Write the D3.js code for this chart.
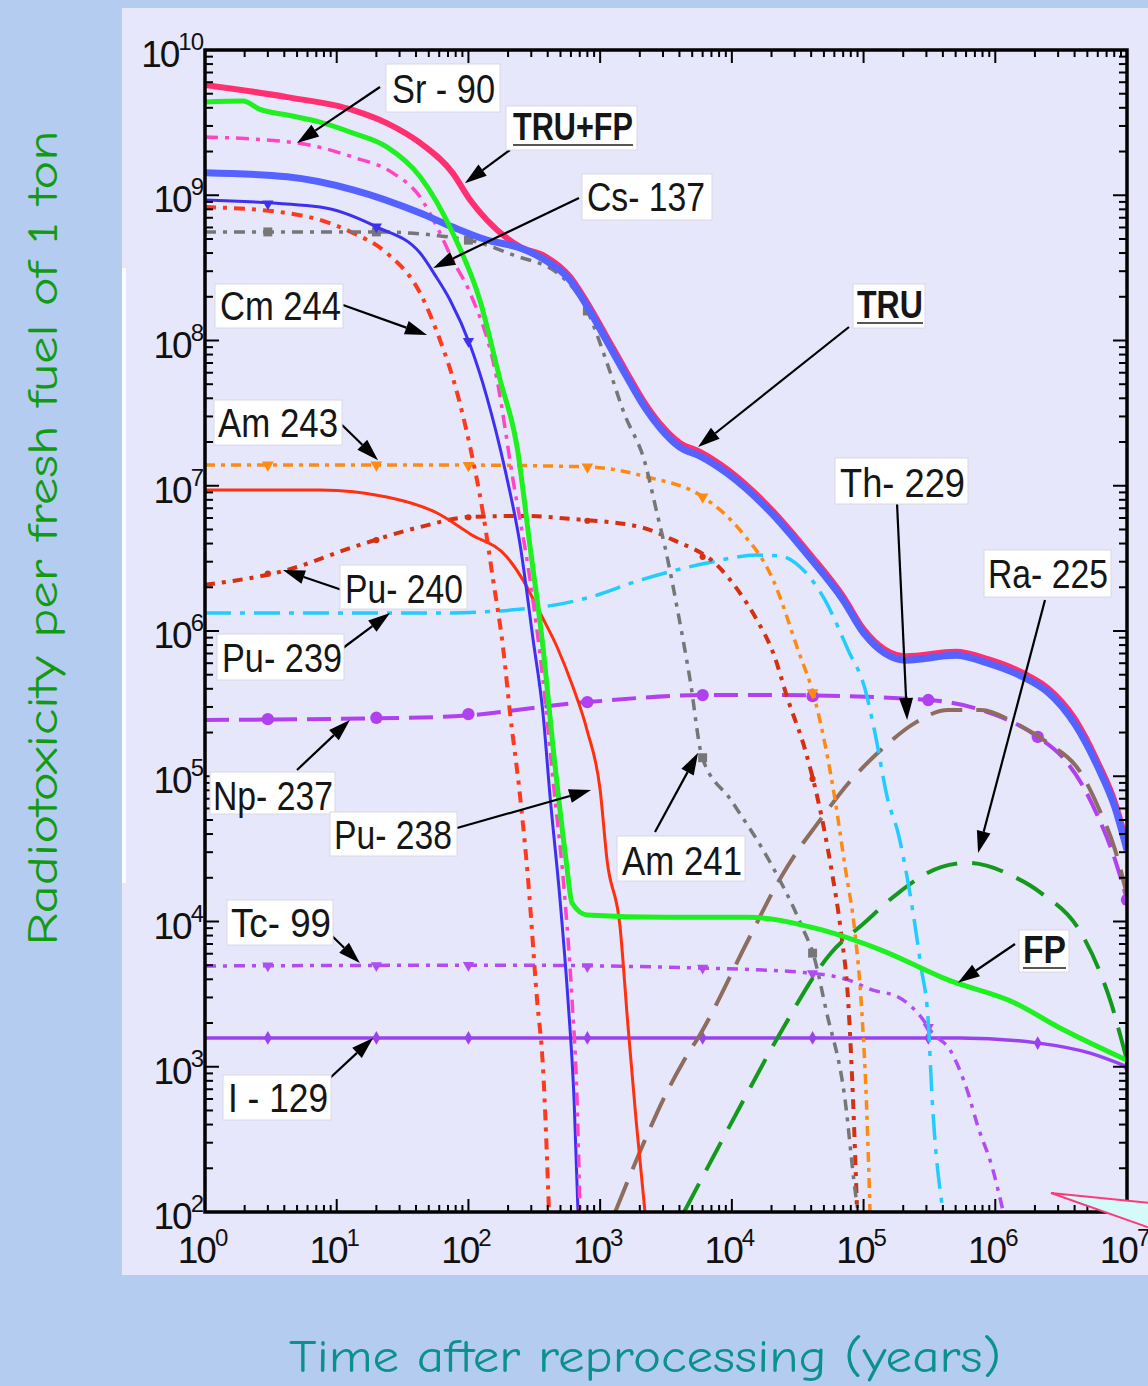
<!DOCTYPE html>
<html>
<head>
<meta charset="utf-8">
<script src="https://cdn.jsdelivr.net/npm/d3@7"></script>
<style>
  html, body { margin: 0; padding: 0; background: #b4ccef; }
  svg { display: block; }
</style>
</head>
<body>
<svg id="chart" width="1148" height="1386"></svg>
<script>
const svg = d3.select("#chart");

const width = 1148;
const height = 1386;

// axis ticks (decades)
const xTickValues = [1, 10, 100, 1e3, 1e4, 1e5, 1e6, 1e7];
const yTickValues = [1e2, 1e3, 1e4, 1e5, 1e6, 1e7, 1e8, 1e9, 1e10];

// series: [years, radiotoxicity]
const truFp = [[1,5.74e9],[4.2,4.74e9],[13.3,3.86e9],[24,3.14e9],[43,2.29e9],[76,1.42e9],[103,9.27e8],[138,6.76e8],[247,4.41e8],[382,3.8e8],[590,2.75e8],[770,1.92e8],[1090,1.11e8],[1550,6.3e7],[2200,3.67e7],[2850,2.67e7],[4000,1.98e7],[5740,1.71e7],[9200,1.3e7],[19000,7.2e6],[39000,3.4e6],[70000,1.73e6],[1.0e5,1.03e6],[2.1e5,6.7e5],[5.0e5,7.2e5],[8.8e5,6.4e5],[1.8e6,4.9e5],[2.5e6,4.05e5],[4.0e6,2.5e5],[6.0e6,1.25e5],[8.1e6,6.6e4],[1e7,3.4e4]];
const tru = [[1,1.43e9],[4.2,1.34e9],[13.3,1.09e9],[43,7.55e8],[76,6.04e8],[138,4.92e8],[247,4.34e8],[382,3.58e8],[590,2.61e8],[770,1.81e8],[1090,1.04e8],[1550,5.88e7],[2200,3.43e7],[2850,2.5e7],[4000,1.85e7],[5740,1.6e7],[9200,1.22e7],[19000,6.8e6],[39000,3.2e6],[70000,1.63e6],[1.0e5,9.7e5],[2.1e5,6.3e5],[5.0e5,6.8e5],[8.8e5,6.0e5],[1.8e6,4.6e5],[2.5e6,3.8e5],[4.0e6,2.3e5],[6.0e6,1.16e5],[8.1e6,6.1e4],[1e7,3.1e4]];
const fp = [[1,4.39e9],[1.94,4.45e9],[2.62,3.9e9],[4.2,3.57e9],[7.47,3.19e9],[13.3,2.68e9],[24,2.15e9],[43,1.34e9],[76,5.5e8],[122,1.9e8],[174,5.35e7],[234,1.85e7],[294,3.78e6],[368,7.76e5],[439,1.59e5],[551,2.65e4],[612,1.34e4],[795,1.11e4],[3110,1.07e4],[13300,1.07e4],[42800,9.0e3],[1.36e5,6.36e3],[4.38e5,3.96e3],[1.41e6,2.75e3],[3.0e6,1.88e3],[1e7,1.11e3]];
const sr90 = [[1,2.52e9],[5.0,2.29e9],[13.3,1.83e9],[26.8,1.42e9],[43,9.73e8],[57.8,6.04e8],[76,3.58e8],[103,2.12e8],[165,5.35e7],[218,1.1e7],[294,2.24e6],[368,4.6e5],[439,9.4e4],[541,1.41e4],[612,2.88e3],[668,5.9e2],[703,1e2]];
const cs137 = [[1,9.27e8],[7.47,8.3e8],[20.2,6.04e8],[43,4.0e8],[55.8,2.82e8],[72.5,1.9e8],[103,9.3e7],[138,4.08e7],[190,1.28e7],[247,3.91e6],[310,8.67e5],[368,2.72e5],[417,7.2e4],[496,1.41e4],[570,2.88e3],[634,5.9e2],[679,1e2]];
const cm244 = [[1,8.3e8],[4.2,7.55e8],[7.47,6.76e8],[13.3,5.5e8],[24,4.0e8],[43,2.12e8],[61,1e8],[79,4.94e7],[103,1.85e7],[129,6.49e6],[154,2.24e6],[183,7.76e5],[207,2.72e5],[247,7.2e4],[284,1.93e4],[332,2.88e3],[368,9.96e2],[409,1e2]];
const am243 = [[1,1.39e7],[61,1.39e7],[795,1.35e7],[2270,1.15e7],[6040,8.37e6],[11500,4.96e6],[20600,2.24e6],[31800,7.4e5],[42800,3.35e5],[60800,6.84e4],[72400,2.37e4],[86100,8.34e3],[95700,2.88e3],[1.05e5,5.9e2],[1.12e5,1e2]];
const pu238 = [[1,9.35e6],[7.47,9.35e6],[24,8.37e6],[57.8,6.49e6],[103,4.66e6],[196,3.23e6],[260,2.24e6],[350,1.33e6],[471,7.76e5],[622,4.11e5],[795,2.08e5],[1000,8.04e4],[1128,2.65e4],[1416,9.2e3],[1629,1.88e3],[1874,4.3e2],[2190,1e2]];
const pu240 = [[1,2.08e6],[4.2,2.63e6],[13.3,3.78e6],[43,5.2e6],[103,6.1e6],[247,6.2e6],[622,5.9e6],[2010,5.2e6],[3580,4.24e6],[7720,2.84e6],[11500,1.83e6],[15500,1.19e6],[20600,7.07e5],[26700,3.35e5],[36000,1.52e5],[45100,6.84e4],[56600,2.37e4],[67500,8.34e3],[76300,2.88e3],[83200,5.9e2],[89300,1e2]];
const pu239 = [[1,1.33e6],[61,1.33e6],[350,1.46e6],[838,1.71e6],[2010,2.24e6],[6490,2.94e6],[15500,3.33e6],[23200,3.28e6],[33000,2.76e6],[51000,1.63e6],[76300,7.4e5],[1.03e5,3.93e5],[1.22e5,1.99e5],[1.53e5,6.84e4],[1.83e5,4.06e4],[2.18e5,1.84e4],[2.73e5,4.86e3],[3.09e5,2.1e3],[3.32e5,5.9e2],[4.02e5,1e2]];
const np237 = [[1,2.44e5],[61,2.56e5],[795,3.24e5],[6040,3.62e5],[23200,3.62e5],[3.09e5,3.35e5],[7.8e5,2.86e5],[2.11e6,1.86e5],[3.39e6,1.29e5],[4.48e6,9.0e4],[6.04e6,5.24e4],[8.13e6,2.65e4],[1e7,1.41e4]];
const th229 = [[1300,1e2],[2190,3.13e2],[3000,5.9e2],[4340,1.11e3],[5830,1.71e3],[13300,7.46e3],[23600,2.02e4],[31800,3.1e4],[42800,4.48e4],[80400,9.4e4],[1.36e5,1.52e5],[2.46e5,2.33e5],[4.38e5,2.86e5],[7.8e5,2.86e5],[1.41e6,2.33e5],[2.52e6,1.69e5],[4.48e6,1.05e5],[6.04e6,6.14e4],[8.13e6,3.1e4],[1e7,1.52e4]];
const ra225 = [[4340,1e2],[11500,5.28e2],[22400,1.6e3],[56600,6.07e3],[1.01e5,9.77e3],[1.83e5,1.57e4],[3.87e5,2.37e4],[6.2e5,2.53e4],[1.41e6,2.02e4],[2.23e6,1.57e4],[4.48e6,8.34e3],[6.14e6,4.63e3],[7.57e6,2.75e3],[8.87e6,1.66e3],[1e7,1.11e3]];
const tc99 = [[1,4.94e3],[174,5.0e3],[5940,4.78e3],[39200,4.42e3],[76300,3.96e3],[1.16e5,3.38e3],[1.83e5,3.02e3],[2.73e5,2.2e3],[3.32e5,1.71e3],[4.54e5,1.3e3],[6.11e5,6.92e2],[7.4e5,3.85e2],[9.46e5,2.04e2],[1.15e6,1e2]];
const i129 = [[1,1.58e3],[5.41e5,1.58e3],[2.07e6,1.46e3],[5.25e6,1.24e3],[1e7,1e3]];
const am241 = [[1,5.59e8],[20,5.59e8],[99,4.92e8],[218,3.88e8],[496,2.82e8],[795,1.62e8],[1128,7.0e7],[1518,3.17e7],[2190,1.44e7],[2700,6.49e6],[3110,3.78e6],[3908,1.33e6],[4820,4.6e5],[5940,1.36e5],[9860,6.84e4],[19100,2.65e4],[34100,9.2e3],[42100,5.7e3],[51900,2.46e3],[72400,5.9e2],[86100,1.42e2],[90800,1e2]];

// times where the plotting program put its symbols
const markerTimes = [3, 20, 100, 800, 6000, 41000, 3.1e5, 2.1e6, 1e7];

// drawing order and styles
const seriesList = [
    {data: i129,  color: "#9a42f0", width: 3.5, dash: null,           marker: "diamond", msize: 55},
    {data: tc99,  color: "#b04cf2", width: 3.5, dash: "11,7,4,7",     marker: "triangle", msize: 55},
    {data: np237, color: "#b040f0", width: 4,   dash: "24,10",        marker: "circle", msize: 120},
    {data: th229, color: "#8c6d5e", width: 4,   dash: "32,14",        marker: null},
    {data: ra225, color: "#13991b", width: 4,   dash: "32,15",        marker: null},
    {data: pu239, color: "#22ccff", width: 3.5, dash: "26,9,5,9",     marker: null},
    {data: pu240, color: "#d5300f", width: 4,   dash: "10,7,4,7",     marker: "circle", msize: 30},
    {data: am243, color: "#ff8a12", width: 3.5, dash: "10,6,4,6",     marker: "triangle", msize: 60},
    {data: pu238, color: "#ff3010", width: 3,   dash: null,           marker: null},
    {data: cm244, color: "#ff3a1c", width: 4,   dash: "11,7,4,7",     marker: null},
    {data: am241, color: "#767676", width: 3.5, dash: "11,7,4,7",     marker: "square", msize: 80},
    {data: cs137, color: "#3f30f0", width: 3,   dash: null,           marker: "triangle", msize: 55},
    {data: sr90,  color: "#ff44c4", width: 3.5, dash: "13,7,4,7",     marker: null},
    {data: truFp, color: "#ff2f72", width: 6,   dash: null,           marker: null},
    {data: tru,   color: "#5462ff", width: 7,   dash: null,           marker: null},
    {data: fp,    color: "#1ff01f", width: 5,   dash: null,           marker: null}
];

// callout labels: box and arrow start in page layout, arrow tip in data units
const annotations = [
    {text: "Sr - 90",  box: [386, 64, 114, 48],  tx: 392, ty: 103, tl: 103, from: [380, 87],   tip: [5.0, 2.29e9]},
    {text: "TRU+FP",   box: [506, 106, 131, 44], tx: 513, ty: 140, tl: 120, from: [510, 150],  tip: [94, 1.21e9], bold: true},
    {text: "Cs- 137",  box: [582, 174, 130, 46], tx: 587, ty: 211, tl: 118, from: [579, 198],  tip: [54, 3.16e8]},
    {text: "Cm 244",   box: [215, 284, 128, 44], tx: 220, ty: 320, tl: 121, from: [343, 305],  tip: [48.5, 1.09e8]},
    {text: "Am 243",   box: [214, 400, 128, 45], tx: 218, ty: 437, tl: 120, from: [342, 425],  tip: [20.6, 1.5e7]},
    {text: "Pu- 240",  box: [340, 565, 127, 44], tx: 345, ty: 603, tl: 118, from: [342, 590],  tip: [3.9, 2.63e6]},
    {text: "Pu- 239",  box: [217, 634, 127, 46], tx: 222, ty: 672, tl: 120, from: [343, 648],  tip: [25.4, 1.33e6]},
    {text: "Np- 237",  box: [210, 772, 125, 42], tx: 213, ty: 810, tl: 120, from: [297, 770],  tip: [12.6, 2.44e5]},
    {text: "Pu- 238",  box: [330, 812, 127, 44], tx: 334, ty: 849, tl: 118, from: [457, 828],  tip: [853, 8.04e4]},
    {text: "Tc- 99",   box: [227, 900, 106, 45], tx: 231, ty: 937, tl: 100, from: [328, 932],  tip: [15, 5.18e3]},
    {text: "I - 129",  box: [223, 1075, 108, 45], tx: 228, ty: 1112, tl: 100, from: [330, 1078], tip: [18.9, 1.58e3]},
    {text: "Am 241",   box: [617, 836, 128, 45], tx: 622, ty: 875, tl: 120, from: [655, 832],  tip: [5540, 1.45e5]},
    {text: "TRU",      box: [853, 284, 72, 44],  tx: 857, ty: 318, tl: 66,  from: [849, 327],  tip: [5540, 1.85e7], bold: true},
    {text: "Th- 229",  box: [835, 458, 133, 46], tx: 840, ty: 497, tl: 125, from: [897, 503],  tip: [2.14e5, 2.44e5]},
    {text: "Ra- 225",  box: [984, 550, 127, 47], tx: 988, ty: 588, tl: 120, from: [1045, 600], tip: [7.4e5, 2.96e4]},
    {text: "FP",       box: [1019, 930, 50, 42], tx: 1023, ty: 963, tl: 43, from: [1015, 944], tip: [5.2e5, 3.78e3], bold: true}
];

const plot = {left: 205, right: 1127, top: 50, bottom: 1212};

const x = d3.scaleLog().domain([1, 1e7]).range([plot.left, plot.right]);
const y = d3.scaleLog().domain([1e2, 1e10]).range([plot.bottom, plot.top]);

// slide background and the lavender panel of the figure
svg.append("rect").attr("width", width).attr("height", height).attr("fill", "#b4ccef");
svg.append("rect").attr("x", 122).attr("y", 8).attr("width", 1026).attr("height", 1267).attr("fill", "#e7e7fb");
svg.append("rect").attr("x", 122).attr("y", 268).attr("width", 4).attr("height", 615).attr("fill", "#ffffff").attr("opacity", 0.85);

svg.append("clipPath").attr("id", "plot-clip")
    .append("rect")
    .attr("x", plot.left).attr("y", plot.top)
    .attr("width", plot.right - plot.left).attr("height", plot.bottom - plot.top);

// log-log interpolation of a series at time t
function valueAt(data, t) {
    if (t < data[0][0] || t > data[data.length - 1][0]) return null;
    for (let i = 1; i < data.length; i++) {
        const a = data[i - 1], b = data[i];
        if (t <= b[0]) {
            const f = (Math.log10(t) - Math.log10(a[0])) / (Math.log10(b[0]) - Math.log10(a[0]) || 1);
            return Math.pow(10, Math.log10(a[1]) + f * (Math.log10(b[1]) - Math.log10(a[1])));
        }
    }
    return null;
}

const line = d3.line()
    .x(d => x(d[0]))
    .y(d => y(d[1]))
    .curve(d3.curveMonotoneX);

const curves = svg.append("g").attr("clip-path", "url(#plot-clip)");

const symbolTypes = {
    circle: d3.symbolCircle,
    triangle: d3.symbolTriangle,
    square: d3.symbolSquare,
    diamond: d3.symbolDiamond
};

seriesList.forEach(s => {
    curves.append("path")
        .attr("d", line(s.data))
        .attr("fill", "none")
        .attr("stroke", s.color)
        .attr("stroke-width", s.width)
        .attr("stroke-dasharray", s.dash)
        .attr("stroke-linejoin", "round");

    if (s.marker) {
        const sym = d3.symbol().type(symbolTypes[s.marker]).size(s.msize);
        markerTimes.forEach(t => {
            const v = valueAt(s.data, t);
            if (v === null || v < 1e2) return;
            curves.append("path")
                .attr("d", sym)
                .attr("transform", `translate(${x(t)},${y(v)})` + (s.marker === "triangle" ? " rotate(180)" : ""))
                .attr("fill", s.color);
        });
    }
});

// frame and ticks
const ticksG = svg.append("g").attr("stroke", "#000").attr("stroke-width", 2);
function isMajor(v) {
    const l = Math.log10(v);
    return Math.abs(l - Math.round(l)) < 1e-6;
}
x.ticks().forEach(v => {
    const len = isMajor(v) ? 13 : 7;
    ticksG.append("line").attr("x1", x(v)).attr("x2", x(v)).attr("y1", plot.bottom).attr("y2", plot.bottom - len);
    ticksG.append("line").attr("x1", x(v)).attr("x2", x(v)).attr("y1", plot.top).attr("y2", plot.top + len);
});
y.ticks().forEach(v => {
    const len = isMajor(v) ? 14 : 8;
    ticksG.append("line").attr("y1", y(v)).attr("y2", y(v)).attr("x1", plot.left).attr("x2", plot.left + len);
    ticksG.append("line").attr("y1", y(v)).attr("y2", y(v)).attr("x1", plot.right).attr("x2", plot.right - len);
});
svg.append("rect")
    .attr("x", plot.left).attr("y", plot.top)
    .attr("width", plot.right - plot.left).attr("height", plot.bottom - plot.top)
    .attr("fill", "none").attr("stroke", "#000").attr("stroke-width", 3.5);

// tick labels with superscript exponents
const tickFont = "'Liberation Sans', Arial, sans-serif";
yTickValues.forEach(v => {
    const t = svg.append("text")
        .attr("x", plot.left - 2)
        .attr("y", y(v) + 17)
        .attr("text-anchor", "end")
        .attr("font-family", tickFont)
        .attr("font-size", 37)
        .attr("letter-spacing", -2)
        .attr("fill", "#111");
    t.append("tspan").text("10");
    t.append("tspan").attr("dy", -17).attr("font-size", 24).attr("letter-spacing", -1).text(Math.round(Math.log10(v)));
});
xTickValues.forEach(v => {
    const t = svg.append("text")
        .attr("x", x(v) - 3)
        .attr("y", plot.bottom + 51)
        .attr("text-anchor", "middle")
        .attr("font-family", tickFont)
        .attr("font-size", 37)
        .attr("letter-spacing", -2)
        .attr("fill", "#111");
    t.append("tspan").text("10");
    t.append("tspan").attr("dy", -17).attr("font-size", 24).text(Math.round(Math.log10(v)));
});

// arrows and label boxes
function drawArrow(g, x0, y0, x1, y1) {
    const a = Math.atan2(y1 - y0, x1 - x0);
    const len = 22, half = 7;
    const bx = x1 - len * Math.cos(a), by = y1 - len * Math.sin(a);
    g.append("line")
        .attr("x1", x0).attr("y1", y0).attr("x2", bx).attr("y2", by)
        .attr("stroke", "#000").attr("stroke-width", 2.2);
    g.append("polygon")
        .attr("points", [
            [x1, y1],
            [bx + half * Math.sin(a), by - half * Math.cos(a)],
            [bx - half * Math.sin(a), by + half * Math.cos(a)]
        ].map(p => p.join(",")).join(" "))
        .attr("fill", "#000");
}

const annG = svg.append("g");
annotations.forEach(d => {
    drawArrow(annG, d.from[0], d.from[1], x(d.tip[0]), y(d.tip[1]));
});
annotations.forEach(d => {
    annG.append("rect")
        .attr("x", d.box[0]).attr("y", d.box[1])
        .attr("width", d.box[2]).attr("height", d.box[3])
        .attr("fill", "#fff")
        .attr("stroke", "#d8d8e4").attr("stroke-width", 1);
    annG.append("text")
        .attr("x", d.tx).attr("y", d.ty)
        .attr("font-family", "'Liberation Sans Narrow', 'Liberation Sans', Arial, sans-serif")
        .attr("font-size", d.bold ? 38 : 40)
        .attr("font-weight", d.bold ? "bold" : "normal")
        .attr("textLength", d.tl)
        .attr("lengthAdjust", "spacingAndGlyphs")
        .attr("fill", "#161616")
        .text(d.text);
    if (d.bold) {
        annG.append("line")
            .attr("x1", d.tx).attr("x2", d.tx + d.tl)
            .attr("y1", d.ty + 5).attr("y2", d.ty + 5)
            .attr("stroke", "#555").attr("stroke-width", 2);
    }
});

// slide callout pointer, bottom right
svg.append("polygon")
    .attr("points", "1051,1193 1150,1203 1150,1228")
    .attr("fill", "#d4fafa")
    .attr("stroke", "#ff3a7a")
    .attr("stroke-width", 2);

// axis titles
svg.append("text")
    .attr("transform", "translate(57,538) rotate(-90)")
    .attr("text-anchor", "middle")
    .attr("font-family", "'Comic Sans MS', 'Comic Neue', Lato, sans-serif")
    .attr("font-size", 42)
    .attr("textLength", 815)
    .attr("lengthAdjust", "spacingAndGlyphs")
    .attr("fill", "#139a13")
    .text("Radiotoxicity per fresh fuel of 1 ton");

svg.append("text")
    .attr("x", 645)
    .attr("y", 1372)
    .attr("text-anchor", "middle")
    .attr("font-family", "'Comic Sans MS', 'Comic Neue', Lato, sans-serif")
    .attr("font-size", 46)
    .attr("textLength", 712)
    .attr("lengthAdjust", "spacingAndGlyphs")
    .attr("fill", "#0b9090")
    .text("Time after reprocessing (years)");
</script>
</body>
</html>
